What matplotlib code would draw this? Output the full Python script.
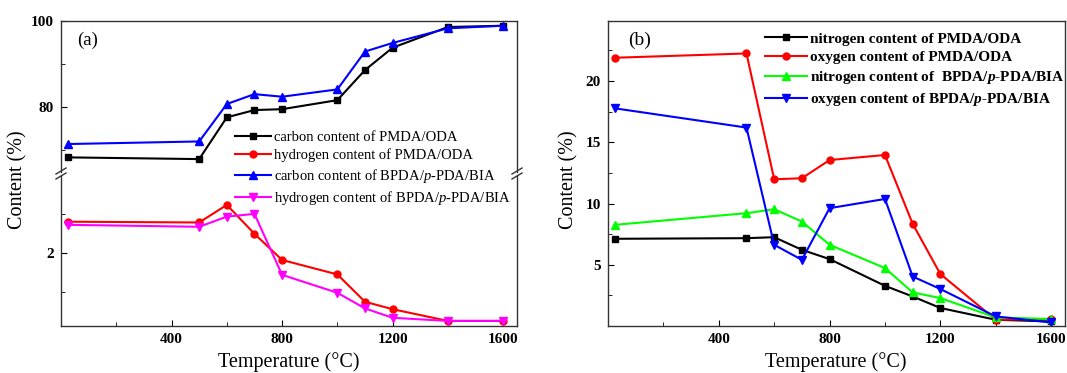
import numpy as np
import matplotlib
matplotlib.use("Agg")
import matplotlib.pyplot as plt
from matplotlib.lines import Line2D
from matplotlib.ticker import MultipleLocator

plt.rcParams["font.family"] = "Liberation Serif"
plt.rcParams["mathtext.fontset"] = "custom"
plt.rcParams["mathtext.rm"] = "Liberation Serif"
plt.rcParams["mathtext.it"] = "Liberation Serif:italic"
plt.rcParams["mathtext.bf"] = "Liberation Serif:bold"
plt.rcParams["mathtext.bfit"] = "Liberation Serif:italic:bold"

# ── Data ──────────────────────────────────────────────────────────────────────
temp = [25, 500, 600, 700, 800, 1000, 1100, 1200, 1400, 1600]
xticks = [400, 800, 1200, 1600]

# panel (a)
carbon_pmda = [68.3, 67.9, 77.6, 79.3, 79.5, 81.6, 88.6, 93.8, 98.6, 98.9]
hydrogen_pmda = [2.80, 2.78, 3.23, 2.49, 1.82, 1.45, 0.75, 0.56, 0.26, 0.26]
carbon_bpda = [71.4, 72.0, 80.7, 83.0, 82.4, 84.1, 92.9, 94.9, 98.3, 98.9]
hydrogen_bpda = [2.72, 2.67, 2.93, 3.00, 1.44, 0.98, 0.58, 0.34, 0.26, 0.26]

# panel (b)
nitrogen_pmda = [7.12, 7.17, 7.25, 6.22, 5.46, 3.28, 2.41, 1.47, 0.51, 0.37]
oxygen_pmda = [21.9, 22.25, 11.98, 12.06, 13.55, 13.96, 8.34, 4.24, 0.51, 0.57]
nitrogen_bpda = [8.26, 9.21, 9.53, 8.53, 6.63, 4.73, 2.74, 2.28, 0.70, 0.57]
oxygen_bpda = [17.77, 16.2, 6.63, 5.40, 9.62, 10.37, 4.04, 3.02, 0.78, 0.29]

labels_a = ["carbon content of PMDA/ODA",
            "hydrogen content of PMDA/ODA",
            r"carbon content of BPDA/$\it{p}$-PDA/BIA",
            r"hydrogen content of BPDA/$\it{p}$-PDA/BIA"]
labels_b = ["nitrogen content of PMDA/ODA",
            "oxygen content of PMDA/ODA",
            r"nitrogen content of  BPDA/$\mathbfit{p}$-PDA/BIA",
            r"oxygen content of BPDA/$\mathbfit{p}$-PDA/BIA"]

W, H = 1067, 373
fig = plt.figure(figsize=(W / 100, H / 100), dpi=100)


def px(l, t, r, b):
    return [l / W, 1 - b / H, (r - l) / W, (b - t) / H]


LW, MS = 1.5, 5


def style(ax, bottom=True, top=True):
    ax.tick_params(direction="in", which="both", top=False, right=False,
                   labelsize=11, pad=5)
    ax.tick_params(which="major", length=4)
    ax.tick_params(which="minor", length=3)
    for lab in ax.get_xticklabels() + ax.get_yticklabels():
        lab.set_fontweight("bold")
    for s in ax.spines.values():
        s.set_linewidth(1.0)
        s.set_color("#333333")
    ax.spines["bottom"].set_visible(bottom)
    ax.spines["top"].set_visible(top)


# ── Panel (a): broken y axis ─────────────────────────────────────────────────
ax_t = fig.add_axes(px(61, 21, 517, 172))
ax_b = fig.add_axes(px(61, 176, 517, 326), sharex=ax_t)

h1, = ax_t.plot(temp, carbon_pmda, "-s", color="black", lw=LW, ms=MS)
h3, = ax_t.plot(temp, carbon_bpda, "-^", color="#0000FF", lw=LW, ms=MS + 1)
h2, = ax_b.plot(temp, hydrogen_pmda, "-o", color="#FF0000", lw=LW, ms=MS)
h4, = ax_b.plot(temp, hydrogen_bpda, "-v", color="#FF00FF", lw=LW, ms=MS + 1)

ax_t.set_ylim(64.9, 100)
ax_t.yaxis.set_major_locator(MultipleLocator(20))
ax_t.yaxis.set_minor_locator(MultipleLocator(10))
ax_t.tick_params(axis="x", which="both", bottom=False, labelbottom=False)
ax_b.set_ylim(0.13, 3.97)
ax_b.yaxis.set_major_locator(MultipleLocator(2))
ax_b.yaxis.set_minor_locator(MultipleLocator(1))
ax_b.set_xlim(0, 1650)
ax_b.set_xticks(xticks)
ax_b.xaxis.set_minor_locator(MultipleLocator(200))
style(ax_t, bottom=False)
style(ax_b, top=False)
fig.text(88 / W, 1 - 40 / H, "(a)", fontsize=13.5, ha="center", va="center")

# break marks
for xb in (61, 517):
    for dy in (-3, 2):
        fig.add_artist(Line2D([(xb - 5) / W, (xb + 5) / W],
                              [1 - (174 + dy + 3) / H, 1 - (174 + dy - 3) / H],
                              color="#333333", lw=1.0))

fig.legend([h1, h2, h3, h4], labels_a, loc="upper left",
           bbox_to_anchor=(235 / W, 1 - 131 / H), frameon=False,
           fontsize=10.5, handlelength=2.5, handletextpad=0.2,
           labelspacing=0.3, borderpad=0, borderaxespad=0)

fig.text(18 / W, 1 - 180 / H, "Content (%)", rotation=90, fontsize=14.5,
         ha="center", va="center")
fig.text(289 / W, 1 - 362 / H, "Temperature (°C)", fontsize=14.5,
         ha="center", va="center")

# ── Panel (b) ────────────────────────────────────────────────────────────────
ax2 = fig.add_axes(px(608, 21, 1065, 326))
g1, = ax2.plot(temp, nitrogen_pmda, "-s", color="black", lw=LW, ms=MS)
g2, = ax2.plot(temp, oxygen_pmda, "-o", color="#FF0000", lw=LW, ms=MS)
g3, = ax2.plot(temp, nitrogen_bpda, "-^", color="#00FF00", lw=LW, ms=MS + 1)
g4, = ax2.plot(temp, oxygen_bpda, "-v", color="#0000FF", lw=LW, ms=MS + 1)
ax2.set_xlim(0, 1650)
ax2.set_ylim(0, 24.9)
ax2.set_xticks(xticks)
ax2.xaxis.set_minor_locator(MultipleLocator(200))
ax2.set_yticks([5, 10, 15, 20])
ax2.yaxis.set_minor_locator(MultipleLocator(2.5))
style(ax2)
fig.text(640 / W, 1 - 40 / H, "(b)", fontsize=14, ha="center", va="center")
ax2.legend([g1, g2, g3, g4], labels_b, loc="upper left",
           bbox_to_anchor=(765 / W, 1 - 32 / H), bbox_transform=fig.transFigure,
           frameon=False, prop={"weight": "bold", "size": 11},
           handlelength=2.75, handletextpad=0.2, labelspacing=0.32,
           borderpad=0, borderaxespad=0)

fig.text(569 / W, 1 - 180 / H, "Content (%)", rotation=90, fontsize=14.5,
         ha="center", va="center")
fig.text(836 / W, 1 - 362 / H, "Temperature (°C)", fontsize=14.5,
         ha="center", va="center")

fig.savefig("out.png", dpi=100)
